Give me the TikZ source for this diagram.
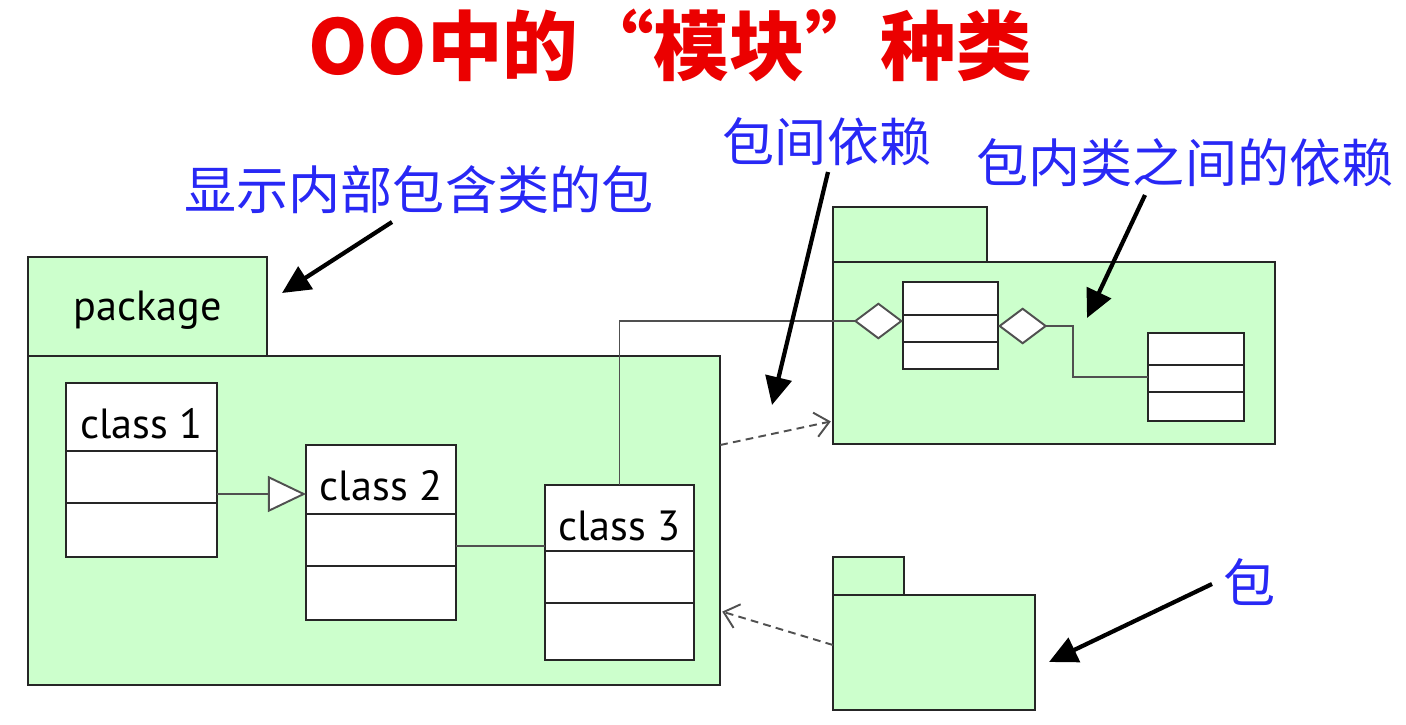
\documentclass[tikz,border=0pt]{standalone}
\usepackage{fontspec}
\setmainfont{PT Sans}
\newfontfamily\cjk{Noto Sans CJK SC}
\usetikzlibrary{arrows.meta}

\definecolor{pkggreen}{RGB}{204,255,204}
\definecolor{noteblue}{RGB}{40,40,245}
\definecolor{titlered}{RGB}{235,0,0}
\definecolor{linkgray}{RGB}{80,80,80}

\tikzset{
  pkg/.style={draw=black!85, fill=pkggreen, line width=0.65pt, inner sep=0pt, outer sep=0pt},
  classbox/.style={draw=black!85, fill=white, line width=0.65pt, inner sep=0pt, outer sep=0pt},
  note/.style={font=\cjk\fontsize{14.8}{16}\selectfont, text=noteblue, inner sep=0pt},
  clabel/.style={font=\fontsize{12}{14}\selectfont, inner sep=0pt},
  pointer/.style={-{Triangle[length=8pt,width=7.5pt]}, line width=1.2pt},
  depend/.style={-{Straight Barb[length=4pt,width=7pt]}, linkgray, line width=0.55pt,
    dash pattern=on 2.2pt off 1.5pt, shorten >=0.6pt},
  assoc/.style={linkgray, line width=0.55pt},
}

\begin{document}
\begin{tikzpicture}[x=0.01cm, y=-0.01cm]
  \useasboundingbox (0,0) rectangle (1406,724);

  % title
  \node (title) at (670,45) [font=\cjk\bfseries\fontsize{21.5}{24}\selectfont, text=titlered]
    {OO中的“模块”种类};

  % package with its classes
  \node (ltab) at (147.5,306.5) [pkg, minimum width=2.39cm, minimum height=0.99cm] {};
  \node (lbody) at (374,520.5) [pkg, minimum width=6.92cm, minimum height=3.29cm] {};
  \node (ltext) at (148,310) [clabel] {package};

  \node (c1) at (141.5,470) [classbox, minimum width=1.51cm, minimum height=1.74cm] {};
  \node (c2) at (381,532.5) [classbox, minimum width=1.50cm, minimum height=1.75cm] {};
  \node (c3) at (619.5,572.5) [classbox, minimum width=1.49cm, minimum height=1.75cm] {};
  \draw[line width=0.65pt, black!85] (c1.west |- 0,451) -- (c1.east |- 0,451)
    (c1.west |- 0,503) -- (c1.east |- 0,503);
  \draw[line width=0.65pt, black!85] (c2.west |- 0,514) -- (c2.east |- 0,514)
    (c2.west |- 0,566) -- (c2.east |- 0,566);
  \draw[line width=0.65pt, black!85] (c3.west |- 0,551) -- (c3.east |- 0,551)
    (c3.west |- 0,603) -- (c3.east |- 0,603);
  \node (c1l) at (141.5,424) [clabel] {class 1};
  \node (c2l) at (381,486) [clabel] {class 2};
  \node (c3l) at (619.5,526) [clabel] {class 3};

  % upper right package
  \node (utab) at (910,234.5) [pkg, minimum width=1.54cm, minimum height=0.55cm] {};
  \node (ubody) at (1054,353) [pkg, minimum width=4.42cm, minimum height=1.82cm] {};
  \node (ca) at (950.5,325.5) [classbox, minimum width=0.95cm, minimum height=0.87cm] {};
  \node (cb) at (1196,377) [classbox, minimum width=0.96cm, minimum height=0.88cm] {};
  \draw[line width=0.65pt, black!85] (ca.west |- 0,315) -- (ca.east |- 0,315)
    (ca.west |- 0,342) -- (ca.east |- 0,342);
  \draw[line width=0.65pt, black!85] (cb.west |- 0,365) -- (cb.east |- 0,365)
    (cb.west |- 0,392) -- (cb.east |- 0,392);

  % lower right package
  \node (stab) at (868.5,576) [pkg, minimum width=0.71cm, minimum height=0.38cm] {};
  \node (sbody) at (934,652.5) [pkg, minimum width=2.02cm, minimum height=1.15cm] {};

  % relations
  \draw[assoc, -{Triangle[fill=white, length=10.8pt, width=10.2pt]}]
    (c1.east |- 0,494) -- (c2.west |- 0,494);
  \draw[assoc] (c2.east |- 0,546) -- (c3.west |- 0,546);
  \draw[assoc, {Diamond[fill=white, length=14pt, width=10.5pt]}-]
    (ca.west |- 0,321) -- (c3.north |- 0,321) -- (c3.north);
  \draw[assoc, {Diamond[fill=white, length=14pt, width=10.5pt]}-]
    (ca.east |- 0,326) -- ++(75,0) |- (cb.west);
  \draw[depend] (lbody.east |- 0,445) -- (ubody.west |- 0,421);
  \draw[depend] (sbody.west |- 0,645) -- (lbody.east |- 0,611);

  % notes
  \node (n1) at (419,190) [note] {显示内部包含类的包};
  \node (n2) at (827,142) [note] {包间依赖};
  \node (n3) at (1185,163) [note] {包内类之间的依赖};
  \node (n4) at (1250,582) [note] {包};

  \coordinate (a1s) at (392,222);  \coordinate (a1e) at (282,293);
  \coordinate (a2s) at (828,172);  \coordinate (a2e) at (772,405);
  \coordinate (a3s) at (1145,195); \coordinate (a3e) at (1087,318);
  \coordinate (a4s) at (1212,584); \coordinate (a4e) at (1049,662);
  \draw[pointer] (a1s) -- (a1e);
  \draw[pointer] (a2s) -- (a2e);
  \draw[pointer] (a3s) -- (a3e);
  \draw[pointer] (a4s) -- (a4e);
\end{tikzpicture}
\end{document}
